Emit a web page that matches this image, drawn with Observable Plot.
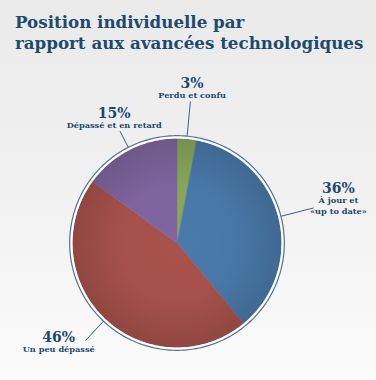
<!DOCTYPE html>
<html>
<head>
<meta charset="utf-8">
<script src="https://cdn.jsdelivr.net/npm/d3@7"></script>
<script src="https://cdn.jsdelivr.net/npm/@observablehq/plot@0.6"></script>
<style>
  html, body { margin: 0; padding: 0; }
  #wrap {
    width: 376px; height: 380px; overflow: hidden;
    background: linear-gradient(180deg, #eaeaea 0%, #f0f0f0 45%, #fbfbfb 100%);
  }
  #title {
    padding: 12px 0 0 15px;
    height: 41px;
    font-family: "DejaVu Serif", serif;
    font-weight: bold;
    font-size: 16.7px;
    line-height: 20.5px;
    color: #1d4a6e;
    white-space: nowrap;
  }
  svg { display: block; }
</style>
</head>
<body>
<div id="wrap">
  <div id="title">Position individuelle par<br>rapport aux avancées technologiques</div>
  <div id="chart"></div>
</div>
<script>
// ---- data (clockwise from 12 o'clock) ----
const categories = ["Perdu et confu", "À jour et\n«up to date»", "Un peu dépassé", "Dépassé et en retard"];
const values = [3, 36, 46, 15];

// ---- styles / layout ----
const colors = ["#89a95a", "#4a7aab", "#a9524c", "#8066a0"];
const lineOuter = [1.36, 1.35, 1.28, 1.20];   // leader line end (in radii)
const labelRadius = [1.53, 1.63, 1.45, 1.38]; // label distance (in radii)
const labelNudge = [0, -4.2, 8.1, 1.2];       // label angle nudge (deg)

const W = 376, H = 327, R = 104.5, CX = 176.5, CY = 189.5;

const total = d3.sum(values);
const slices = [];
let acc = 0;
values.forEach((v, i) => {
  const a0 = acc / total * 2 * Math.PI;
  acc += v;
  const a1 = acc / total * 2 * Math.PI;
  slices.push({cat: categories[i], value: v, a0, a1, mid: (a0 + a1) / 2, i});
});

const px = (r, a) => r * Math.sin(a);
const py = (r, a) => r * Math.cos(a);

// slice polygons
const poly = [];
slices.forEach(s => {
  poly.push({cat: s.cat, x: 0, y: 0});
  const n = Math.max(4, Math.ceil((s.a1 - s.a0) / 0.01));
  for (let k = 0; k <= n; k++) {
    const a = s.a0 + (s.a1 - s.a0) * k / n;
    poly.push({cat: s.cat, x: px(1, a), y: py(1, a)});
  }
  poly.push({cat: s.cat, x: 0, y: 0});
});

const circle = r => d3.range(0, 361).map(d => {
  const a = d / 180 * Math.PI;
  return {x: px(r, a), y: py(r, a)};
});

const leaders = slices.map(s => ({
  x1: px(1.03, s.mid), y1: py(1.03, s.mid),
  x2: px(lineOuter[s.i], s.mid), y2: py(lineOuter[s.i], s.mid)
}));

const labels = slices.map(s => {
  const a = s.mid + labelNudge[s.i] * Math.PI / 180;
  return {x: px(labelRadius[s.i], a), y: py(labelRadius[s.i], a),
          pct: s.value + "%", cat: s.cat};
});

const chart = Plot.plot({
  width: W, height: H,
  margin: 0,
  x: {domain: [-CX / R, (W - CX) / R], axis: null},
  y: {domain: [-(H - CY) / R, CY / R], axis: null},
  color: {domain: categories, range: colors},
  style: {background: "transparent", overflow: "visible"},
  marks: [
    Plot.line(poly, {x: "x", y: "y", z: "cat", fill: "cat", stroke: "cat", strokeWidth: 0.5}),
    Plot.dot([{x: 0, y: 0}], {x: "x", y: "y", r: R, fill: "url(#pieShade)", stroke: "none"}),
    Plot.line(circle(1.012), {x: "x", y: "y", stroke: "white", strokeWidth: 2.6}),
    Plot.line(circle(1.027), {x: "x", y: "y", stroke: "#4f7396", strokeWidth: 1.2}),
    Plot.link(leaders, {x1: "x1", y1: "y1", x2: "x2", y2: "y2", stroke: "#3d5f80", strokeWidth: 1}),
    Plot.text(labels, {x: "x", y: "y", text: "pct", fontSize: 14, fontWeight: "bold",
      fontFamily: "DejaVu Serif", fill: "#1d4a6e", lineAnchor: "middle"}),
    Plot.text(labels, {x: "x", y: "y", text: "cat", fontSize: 8.2, fontWeight: "bold",
      fontFamily: "DejaVu Serif", fill: "#1d4a6e", lineAnchor: "top", dy: 7, lineHeight: 1.3})
  ]
});
// radial shading gradient for the pie
const defs = document.createElementNS("http://www.w3.org/2000/svg", "defs");
defs.innerHTML = `<radialGradient id="pieShade" cx="0.5" cy="0.5" r="0.5">
  <stop offset="0" stop-color="#000" stop-opacity="0"/>
  <stop offset="0.55" stop-color="#000" stop-opacity="0.02"/>
  <stop offset="1" stop-color="#000" stop-opacity="0.14"/>
</radialGradient>`;
chart.insertBefore(defs, chart.firstChild);
document.getElementById("chart").appendChild(chart);
</script>
</body>
</html>
